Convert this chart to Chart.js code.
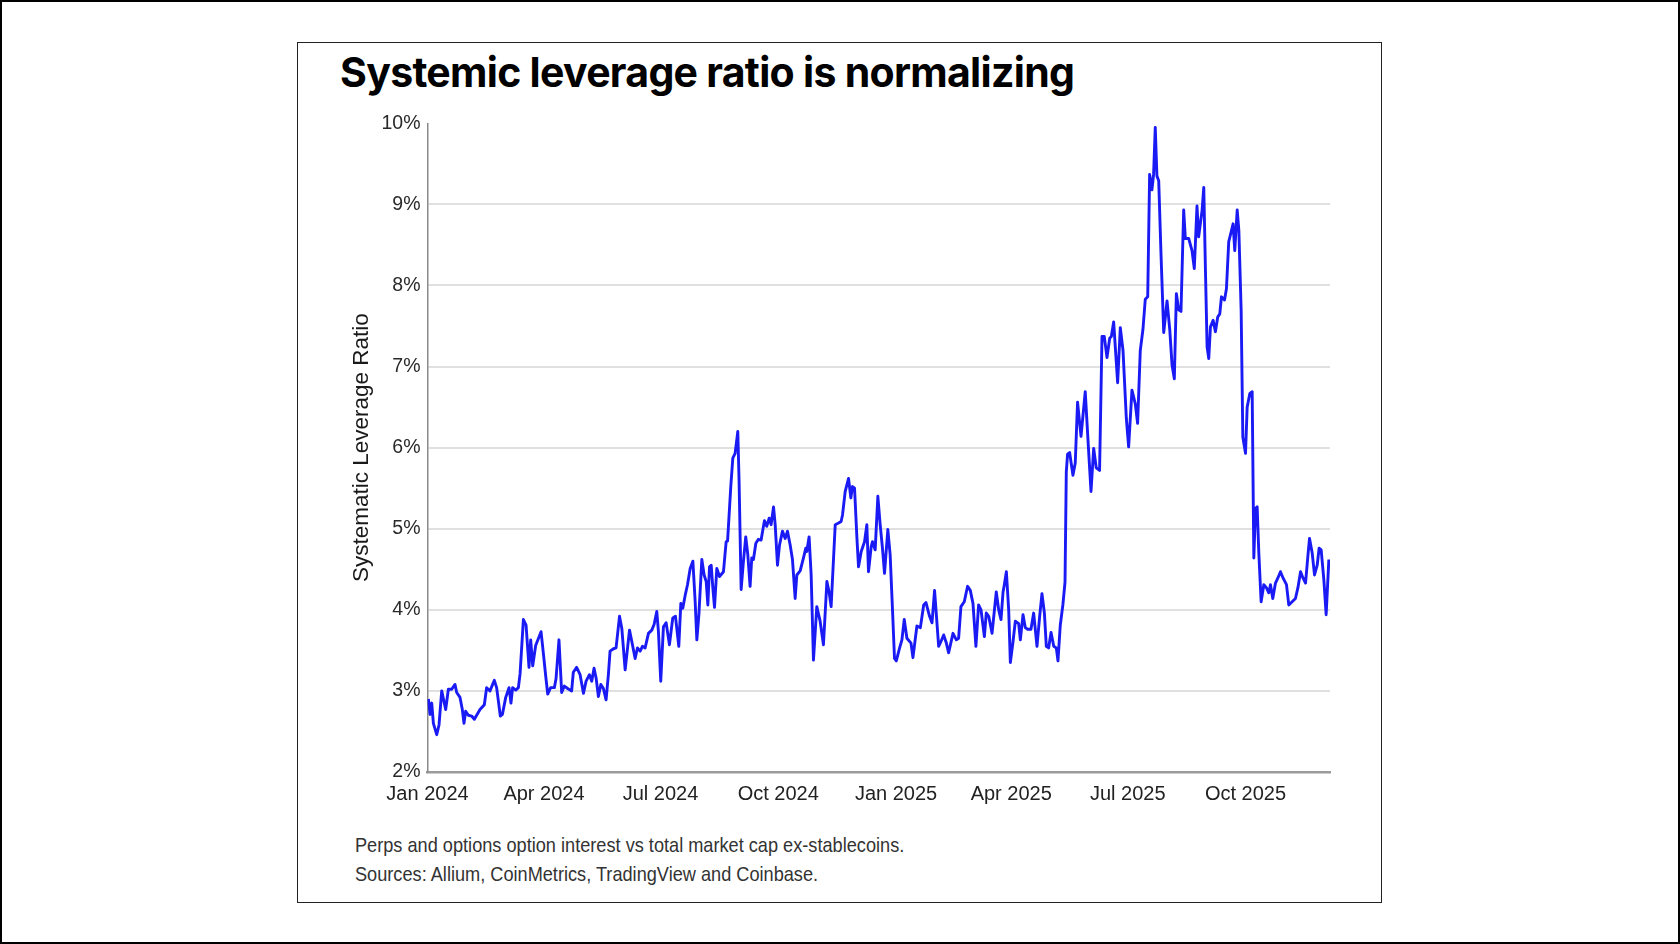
<!DOCTYPE html>
<html><head><meta charset="utf-8">
<script src="https://cdn.jsdelivr.net/npm/chart.js@4.4.1/dist/chart.umd.min.js"></script>
<style>
html,body{margin:0;padding:0;background:#fff;}
#page{position:relative;width:1680px;height:944px;overflow:hidden;background:#fff;}
#outer{position:absolute;left:0;top:0;width:1680px;height:944px;border:2px solid #000;box-sizing:border-box;}
#frame{position:absolute;left:297px;top:42px;width:1085px;height:861px;border:1px solid #222;box-sizing:border-box;}
#title{position:absolute;left:340px;top:51.6px;font-family:Inter,'Liberation Sans',sans-serif;font-weight:700;font-size:41px;line-height:41px;letter-spacing:-0.7px;color:#000;white-space:nowrap;}
#note{position:absolute;left:354.5px;top:830px;font-family:'Liberation Sans Narrow','Liberation Sans',sans-serif;font-size:22px;line-height:29px;color:#333;white-space:nowrap;transform-origin:0 0;}
#wrap{position:absolute;left:300px;top:100px;width:1060px;height:730px;}
</style></head>
<body><div id="page"><div id="outer"></div><div id="frame"></div>
<div id="title">Systemic leverage ratio is normalizing</div>
<div id="wrap"><canvas id="c" width="1060" height="730" style="width:1060px;height:730px"></canvas></div>
<div id="note"><div>Perps and options option interest vs total market cap ex-stablecoins.</div><div>Sources: Allium, CoinMetrics, TradingView and Coinbase.</div></div>
</div>
<script>
// x positions: days since 1 Jan 2024
const tickDays = [0, 91, 182, 274, 366, 456, 547, 639];
const tickLabels = ["Jan 2024","Apr 2024","Jul 2024","Oct 2024","Jan 2025","Apr 2025","Jul 2025","Oct 2025"];

const days = [
 0.7,2.0,3.3,4.6,7.2,9.0,11.1,14.2,16.3,18.9,21.5,22.8,25.4,27.2,28.5,29.8,31.9,34.5,36.6,41.0,
 44.4,46.2,48.8,52.2,54.0,56.9,58.5,61.1,63.7,65.2,66.5,68.9,71.0,72.3,74.9,77.0,79.3,80.6,82.2,84.5,
 88.7,90.8,92.3,93.9,96.2,99.1,100.4,102.7,104.8,106.9,109.5,112.6,113.9,116.5,
 119.2,121.8,123.9,126.5,128.3,130.1,131.7,133.5,135.4,137.4,139.5,141.3,142.6,145.3,147.3,150.0,151.8,154.4,157.8,159.6,
 162.2,164.0,166.1,167.9,170.0,172.6,175.2,177.0,179.1,180.4,182.2,184.3,186.4,189.0,191.6,193.7,196.3,197.9,199.4,201.3,
 203.1,205.2,207.3,209.1,210.4,212.0,214.3,216.1,217.7,219.0,220.3,221.6,222.9,224.2,226.0,228.1,231.2,233.3,234.4,237.0,238.5,
 240.3,242.4,243.4,245.0,246.8,248.6,250.2,252.0,253.3,254.6,256.5,258.5,260.6,263.2,265.0,266.9,268.4,270.3,271.6,273.4,
 275.0,277.3,279.4,281.2,283.3,285.1,287.2,288.5,291.1,293.7,295.5,296.3,298.1,299.7,301.5,304.1,306.7,309.3,312.0,313.8,
 315.3,318.5,321.1,323.1,324.2,326.3,328.9,330.7,332.0,333.6,335.4,336.7,338.8,341.4,343.2,344.5,346.6,347.6,349.7,351.8,
 353.6,355.4,357.0,359.6,361.4,363.3,364.8,
 366.2,368.8,370.6,372.4,374.5,377.7,379.2,382.3,385.0,387.6,389.4,392.2,394.1,396.1,399.3,401.1,403.2,405.3,407.1,410.5,
 413.1,414.9,416.7,419.3,421.9,424.0,426.1,428.4,430.5,432.4,435.0,436.5,438.4,441.0,444.3,446.2,448.0,449.6,450.6,452.2,
 454.0,455.3,457.4,459.2,461.8,463.1,465.2,467.0,468.8,471.4,473.5,476.1,478.2,480.0,481.9,483.4,485.2,487.1,489.2,491.2,492.5,
 494.3,496.4,498.0,499.0,500.0,501.6,504.2,506.0,507.8,510.5,513.8,516.4,518.3,520.4,522.4,525.0,526.9,528.7,530.8,532.9,
 534.2,536.0,539.1,541.2,543.3,545.9,547.7,550.3,552.9,554.7,556.8,558.9,560.7,562.6,564.1,565.9,567.2,568.5,569.8,571.2,
 573.0,575.1,577.7,579.8,581.6,583.4,585.0,586.8,588.6,590.7,592.0,594.6,597.2,599.0,601.1,602.4,
 605.1,606.4,607.7,609.0,610.3,611.6,613.7,615.5,617.3,618.9,620.2,622.6,624.1,625.9,627.8,629.3,630.6,632.5,633.8,635.6,
 636.9,639.0,640.3,642.4,644.2,645.5,646.8,648.1,649.4,651.2,653.3,655.4,657.2,658.5,660.3,662.4,664.2,666.3,668.4,671.0,
 672.8,675.4,678.0,679.9,682.0,684.0,685.9,687.7,689.0,691.1,692.9,695.0,696.5,698.1,700.2,702.0,704.1
];

// systematic leverage ratio, percent
const ratio = [
 2.90,2.71,2.85,2.60,2.46,2.58,3.00,2.77,3.02,3.02,3.08,2.98,2.92,2.77,2.60,2.75,2.70,2.69,2.65,2.77,
 2.83,3.04,3.00,3.13,3.04,2.69,2.71,2.92,3.04,2.85,3.04,3.01,3.04,3.21,3.88,3.81,3.29,3.63,3.31,3.56,
 3.73,3.42,3.19,2.96,3.04,3.04,3.15,3.63,2.98,3.06,3.03,3.00,3.23,3.29,
 3.20,2.97,3.12,3.20,3.12,3.28,3.16,2.93,3.08,3.03,2.89,3.20,3.49,3.52,3.53,3.92,3.77,3.26,3.75,3.61,
 3.40,3.53,3.49,3.55,3.53,3.71,3.75,3.82,3.98,3.73,3.12,3.79,3.84,3.57,3.90,3.92,3.55,4.08,4.02,4.18,
 4.31,4.51,4.60,4.10,3.63,3.94,4.62,4.43,4.35,4.06,4.53,4.55,4.27,4.03,4.51,4.41,4.47,4.84,4.85,5.54,5.87,
 5.93,6.20,5.58,4.25,4.60,4.90,4.68,4.29,4.64,4.62,4.82,4.87,4.86,5.10,5.03,5.13,5.05,5.27,5.05,4.55,
 4.80,4.97,4.88,4.97,4.80,4.62,4.14,4.43,4.48,4.64,4.76,4.72,4.90,4.43,3.38,4.04,3.86,3.57,4.35,4.21,
 4.04,5.05,5.07,5.09,5.17,5.46,5.62,5.38,5.52,5.50,4.90,4.53,4.72,4.84,5.05,4.47,4.78,4.84,4.74,5.40,
 5.05,4.76,4.45,4.99,4.68,3.98,3.40,
 3.37,3.53,3.63,3.88,3.65,3.59,3.41,3.80,3.78,4.06,4.09,3.92,3.84,4.24,3.55,3.61,3.69,3.59,3.47,3.71,
 3.63,3.65,4.04,4.10,4.29,4.24,4.08,3.55,4.06,4.00,3.67,3.96,3.92,3.71,4.22,4.00,3.88,4.22,4.31,4.47,
 4.00,3.35,3.61,3.86,3.83,3.63,3.94,3.78,3.76,3.76,3.96,3.55,3.92,4.20,3.96,3.55,3.53,3.72,3.55,3.53,3.37,
 3.81,4.07,4.34,5.70,5.92,5.94,5.66,5.81,6.56,6.14,6.69,5.97,5.46,5.99,5.75,5.72,7.37,7.37,7.11,7.35,
 7.37,7.55,6.80,7.48,7.20,6.36,6.01,6.71,6.54,6.30,7.20,7.46,7.83,7.86,9.37,9.18,9.37,9.95,9.35,9.29,
 8.38,7.42,7.81,7.46,7.02,6.85,7.90,7.70,7.68,8.93,8.58,8.58,8.43,8.21,8.98,8.60,
 8.93,9.21,8.19,7.24,7.10,7.49,7.57,7.43,7.61,7.65,7.86,7.82,7.96,8.54,8.66,8.76,8.43,8.93,8.68,7.69,
 6.13,5.93,6.50,6.67,6.69,4.64,5.25,5.27,4.70,4.10,4.31,4.27,4.21,4.31,4.14,4.33,4.39,4.47,4.39,4.31,
 4.06,4.10,4.14,4.27,4.47,4.39,4.33,4.66,4.88,4.70,4.43,4.55,4.76,4.74,4.37,3.94,4.62
];

function fontAvailable(name){
  const ctx=document.createElement('canvas').getContext('2d');
  const s='Jan 2024 Perps and options';
  ctx.font='40px monospace'; const a=ctx.measureText(s).width;
  ctx.font="40px '"+name+"', monospace"; const b=ctx.measureText(s).width;
  return Math.abs(a-b)>0.5;
}
const narrow = fontAvailable('Liberation Sans Narrow');
let xFam, xSize;
if (narrow) { xFam = "'Liberation Sans Narrow'"; xSize = 23; }
else {
  xFam = "'Liberation Sans'"; xSize = 20;
  const n=document.getElementById('note');
  n.style.fontFamily="'Liberation Sans',sans-serif"; n.style.fontSize='21px';
  n.style.transform='scaleX(0.865)';
}

const pts = days.map((d,i)=>({x:d,y:ratio[i]}));
new Chart(document.getElementById('c'),{
  type:'line',
  data:{datasets:[{data:pts,borderColor:'#1a1af5',borderWidth:2.9,pointRadius:0,tension:0,fill:false,borderJoinStyle:'round'}]},
  options:{
    responsive:false, animation:false,
    layout:{padding:{left:0,right:30,top:23.3,bottom:0}},
    plugins:{legend:{display:false},tooltip:{enabled:false}},
    scales:{
      x:{type:'linear',min:0,max:705,
        afterBuildTicks:s=>{s.ticks=tickDays.map(v=>({value:v}));},
        afterFit:s=>{s.height=58;},
        grid:{display:false,drawTicks:false},
        border:{display:true,color:'#9b9b9b',width:2.5},
        ticks:{autoSkip:false,maxRotation:0,padding:10.5,color:'#222',font:{family:xFam,size:xSize},
          callback:v=>{const i=tickDays.indexOf(v);return i<0?'':tickLabels[i];}}
      },
      y:{min:2,max:10,
        afterFit:s=>{s.width=127.5;},
        ticks:{stepSize:1,padding:7,color:'#2a2a2a',font:{family:"'Liberation Sans'",size:19.5},callback:v=>v+'%'},
        grid:{drawTicks:false,lineWidth:2,color:c=>(c.tick&&c.tick.value===10)?'rgba(0,0,0,0)':'#e0e0e0'},
        border:{color:'#8a8a8a',width:1.5},
        title:{display:true,text:'Systematic Leverage Ratio',color:'#1a1a1a',font:{family:"'Liberation Sans'",size:22.5},padding:{top:48.5,bottom:0}}
      }
    }
  }
});
</script>
</body></html>
